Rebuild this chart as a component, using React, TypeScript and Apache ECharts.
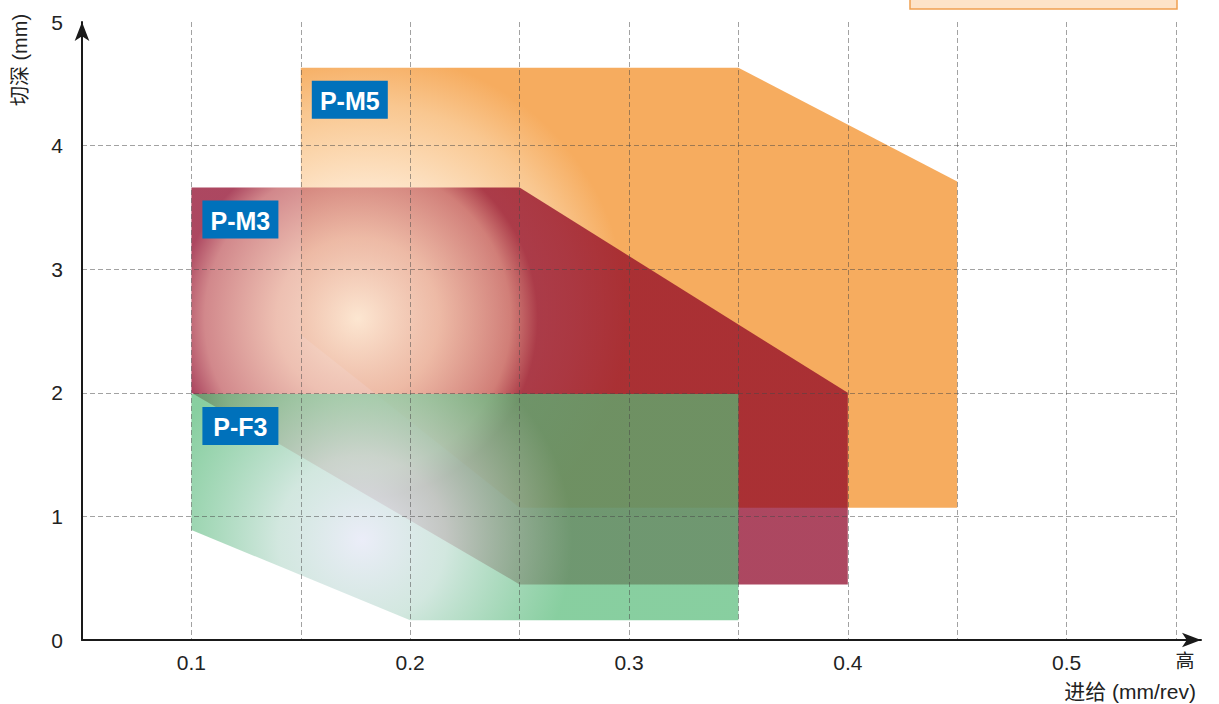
import React, { useEffect, useRef } from 'react';
import * as echarts from 'echarts';

// Application areas (feed mm/rev, depth of cut mm)
const pm5X = [0.15, 0.35, 0.45, 0.45, 0.25, 0.15];
const pm5Y = [4.63, 4.63, 3.71, 1.07, 1.07, 2.47];
const pm3X = [0.1, 0.25, 0.4, 0.4, 0.25, 0.1];
const pm3Y = [3.66, 3.66, 2.0, 0.45, 0.45, 2.0];
const pf3X = [0.1, 0.35, 0.35, 0.2, 0.1];
const pf3Y = [1.99, 1.99, 0.16, 0.16, 0.89];
const seriesNames = ['P-M5', 'P-M3', 'P-F3'];

const xTickLabels = [0.1, 0.2, 0.3, 0.4, 0.5];
const xEndLabel = '高';
const yTickLabels = [0, 1, 2, 3, 4, 5];
const xAxisName = '进给 (mm/rev)';
const yAxisName = '切深 (mm)';

const FONT = '"Liberation Sans", Arial, "Noto Sans CJK SC", sans-serif';

type Glow = { center: number[]; r: number; stops: { offset: number; color: string }[] };

const glowM5: Glow = {
  center: [0.18, 2.65],
  r: 260,
  stops: [
    { offset: 0, color: '#fff5ea' },
    { offset: 0.5, color: '#fde3c6' },
    { offset: 0.8, color: '#f9c790' },
    { offset: 1, color: '#f6ac5f' },
  ],
};
const glowM3: Glow = {
  center: [0.176, 2.6],
  r: 180,
  stops: [
    { offset: 0, color: 'rgba(252,228,205,0.85)' },
    { offset: 0.45, color: 'rgba(230,165,145,0.7)' },
    { offset: 0.85, color: 'rgba(190,85,90,0.7)' },
    { offset: 1, color: 'rgba(140,0,35,0.72)' },
  ],
};
const glowF3: Glow = {
  center: [0.178, 0.81],
  r: 210,
  stops: [
    { offset: 0, color: 'rgba(234,236,248,0.95)' },
    { offset: 0.4, color: 'rgba(200,226,216,0.82)' },
    { offset: 1, color: 'rgba(85,186,119,0.7)' },
  ],
};

function areaSeries(name: string, xs: number[], ys: number[], glow: Glow, z: number) {
  return {
    type: 'custom',
    name,
    xAxisIndex: 0,
    yAxisIndex: 0,
    z,
    data: xs.map((x, i) => [x, ys[i]]),
    encode: { x: 0, y: 1 },
    renderItem: (params: any, api: any) => {
      if (params.dataIndex !== 0) return null;
      const pts = xs.map((x, i) => api.coord([x, ys[i]]));
      const c = api.coord(glow.center);
      const bx = pts[0][0] + 11;
      const by = pts[0][1] + 13;
      return {
        type: 'group',
        children: [
          {
            type: 'polygon',
            shape: { points: pts },
            style: {
              fill: {
                type: 'radial',
                x: c[0],
                y: c[1],
                r: glow.r,
                global: true,
                colorStops: glow.stops,
              },
            },
          },
          {
            type: 'rect',
            shape: { x: bx, y: by, width: 76, height: 38 },
            style: { fill: '#0071BB' },
          },
          {
            type: 'text',
            x: bx + 38,
            y: by + 20,
            style: {
              text: name,
              fill: '#ffffff',
              font: 'bold 25px ' + FONT,
              align: 'center',
              verticalAlign: 'middle',
            },
          },
        ],
      };
    },
  };
}

const near = (a: number, b: number) => Math.abs(a - b) < 1e-6;

export default function App() {
  const ref = useRef<HTMLDivElement>(null);
  useEffect(() => {
    if (!ref.current) return;
    const chart = echarts.init(ref.current, null, { renderer: 'svg' });
    const gridColor = 'rgba(70,70,70,0.5)';
    chart.setOption({
      animation: false,
      backgroundColor: '#ffffff',
      grid: [
        { left: 82, right: 43, top: 22, bottom: 64 },
        { left: 82, right: 18, top: 22, bottom: 64 },
      ],
      xAxis: [
        {
          type: 'value',
          gridIndex: 0,
          min: 0.05,
          max: 0.55,
          interval: 0.05,
          z: 10,
          axisLine: { show: false },
          axisTick: { show: false },
          splitLine: {
            show: true,
            showMinLine: false,
            lineStyle: { color: gridColor, type: [5, 3], width: 1 },
          },
          axisLabel: {
            margin: 12,
            fontSize: 21,
            fontFamily: FONT,
            color: '#222',
            showMinLabel: false,
            formatter: (v: number) => {
              if (xTickLabels.some((t) => near(t, v))) return v.toFixed(1);
              if (near(v, 0.55)) return '{h|' + xEndLabel + '}';
              return '';
            },
            rich: { h: { fontSize: 19, fontFamily: FONT, color: '#222', padding: [0, 0, 0, 18] } },
          },
        },
        {
          type: 'value',
          gridIndex: 1,
          min: 0,
          max: 1,
          z: 10,
          axisLine: {
            show: true,
            symbol: ['none', 'arrow'],
            symbolSize: [11, 19],
            lineStyle: { color: '#1a1a1a', width: 2 },
          },
          axisTick: { show: false },
          axisLabel: { show: false },
          splitLine: { show: false },
        },
      ],
      yAxis: [
        {
          type: 'value',
          gridIndex: 0,
          min: 0,
          max: 5,
          interval: 1,
          z: 10,
          axisLine: {
            show: true,
            symbol: ['none', 'arrow'],
            symbolSize: [11, 19],
            lineStyle: { color: '#1a1a1a', width: 2 },
          },
          axisTick: { show: false },
          splitLine: {
            show: true,
            showMinLine: false,
            showMaxLine: false,
            lineStyle: { color: gridColor, type: [5, 3], width: 1 },
          },
          axisLabel: {
            margin: 19,
            fontSize: 21,
            fontFamily: FONT,
            color: '#222',
            formatter: (v: number) => (yTickLabels.some((t) => near(t, v)) ? String(Math.round(v)) : ''),
          },
        },
        { type: 'value', gridIndex: 1, show: false, min: 0, max: 1 },
      ],
      series: [
        areaSeries(seriesNames[0], pm5X, pm5Y, glowM5, 2),
        areaSeries(seriesNames[1], pm3X, pm3Y, glowM3, 3),
        areaSeries(seriesNames[2], pf3X, pf3Y, glowF3, 4),
      ],
      graphic: [
        {
          type: 'rect',
          shape: { x: 910, y: -12, width: 267, height: 21 },
          style: { fill: '#FDE3C8', stroke: '#F0A050', lineWidth: 1.5 },
          z: 20,
        },
        {
          type: 'text',
          x: 20,
          y: 60,
          rotation: Math.PI / 2,
          style: {
            text: yAxisName,
            font: '20px ' + FONT,
            fill: '#222',
            align: 'center',
            verticalAlign: 'middle',
          },
          z: 20,
        },
        {
          type: 'text',
          x: 1196,
          y: 691,
          style: {
            text: xAxisName,
            font: '21px ' + FONT,
            fill: '#222',
            align: 'right',
            verticalAlign: 'middle',
          },
          z: 20,
        },
      ],
    });
    return () => chart.dispose();
  }, []);
  return (
    <div
      ref={ref}
      style={{ position: 'fixed', left: 0, top: 0, width: 1219, height: 704, background: '#fff' }}
    />
  );
}
